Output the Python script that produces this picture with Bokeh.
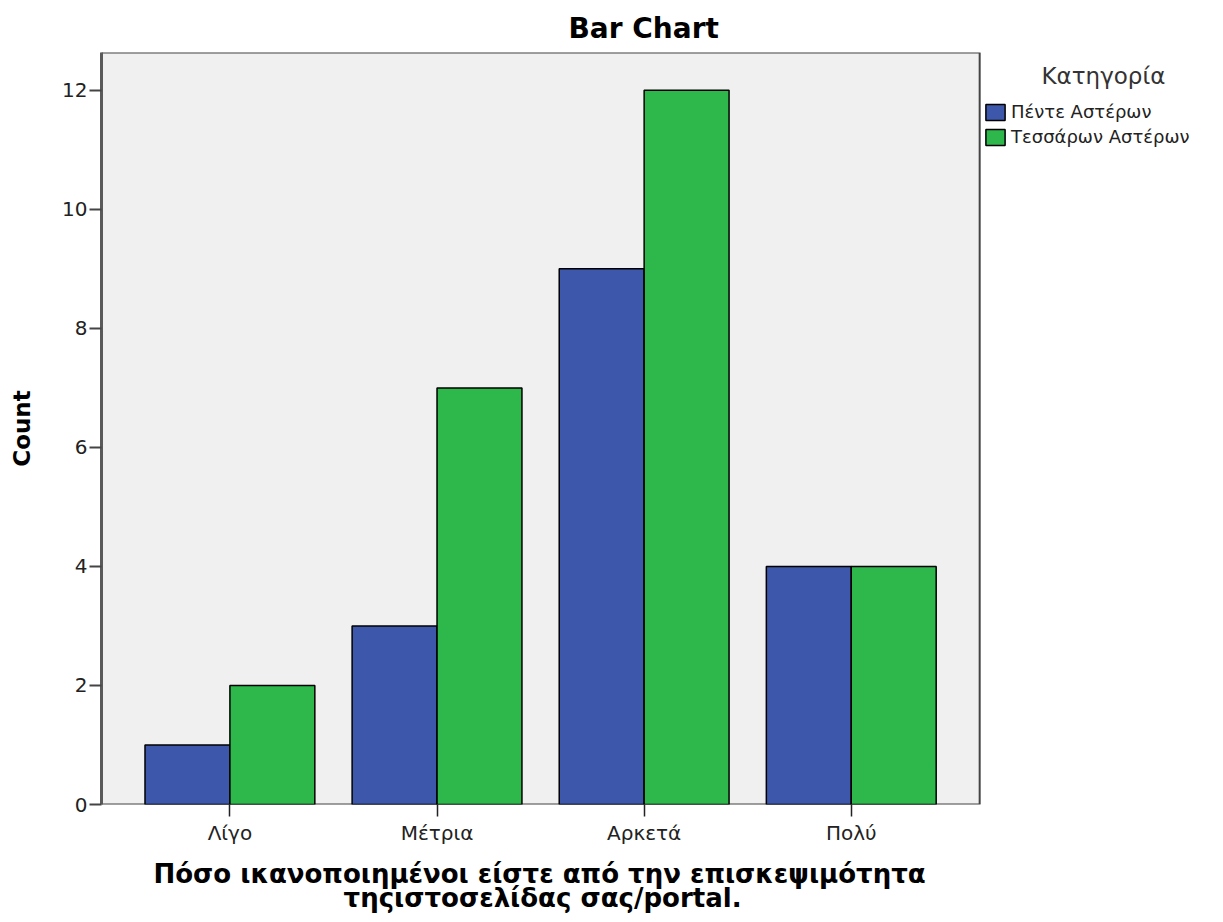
from bokeh.plotting import figure
from bokeh.models import (ColumnDataSource, Range1d, FixedTicker, Legend, LegendItem,
                          BoxAnnotation, Title)
from bokeh.transform import dodge
from bokeh.embed import file_html
from bokeh.resources import INLINE

categories = ["Λίγο", "Μέτρια", "Αρκετά", "Πολύ"]
pente = [1, 3, 9, 4]
tessaron = [2, 7, 12, 4]
series_names = ["Πέντε Αστέρων", "Τεσσάρων Αστέρων"]
y_ticks = [0, 2, 4, 6, 8, 10, 12]
legend_title = "Κατηγορία"
chart_title = "Bar Chart"
x_label_lines = ["Πόσο ικανοποιημένοι είστε από την επισκεψιμότητα",
                 "τηςιστοσελίδας σας/portal."]
y_label = "Count"

BLUE = "#3d57aa"
GREEN = "#2eb84b"
FONT = "DejaVu Sans"
NBSP = "\u00a0"

# plotting box (data units) and the extra room on the right that holds the legend
X0, X1, XR = 0.38, 4.62, 5.72
Y0, Y1 = 0, 12.635

pos = list(range(1, len(categories) + 1))
src = ColumnDataSource(dict(x=pos, pente=pente, tessaron=tessaron))

W, H = 1207, 922
p = figure(width=W, height=H, output_backend="svg", toolbar_location=None,
           x_range=Range1d(X0, XR), y_range=Range1d(Y0, Y1),
           min_border_left=101, min_border_right=0, min_border_top=52,
           min_border_bottom=H - 808)

p.background_fill_color = "white"
p.border_fill_color = "white"
p.outline_line_color = None
p.xgrid.visible = False
p.ygrid.visible = False

p.add_layout(BoxAnnotation(left=X0, right=X1, bottom=Y0, top=Y1, fill_color="#f0f0f0",
                           fill_alpha=1, line_color="#444444", line_alpha=1,
                           line_width=2, level="underlay"))

p.title.text = chart_title
p.title.text_font = FONT
p.title.text_font_size = "28px"
p.title.text_font_style = "bold"
p.title.text_color = "black"
p.title.align = "left"
p.title.offset = 467
p.title.standoff = 16

w = 0.41
r1 = p.vbar(x=dodge("x", -w / 2, range=p.x_range), top="pente", width=w, source=src,
            fill_color=BLUE, line_color="black", line_width=1.5)
r2 = p.vbar(x=dodge("x", w / 2, range=p.x_range), top="tessaron", width=w, source=src,
            fill_color=GREEN, line_color="black", line_width=1.5)

# axes
xa = p.xaxis[0]
xa.ticker = FixedTicker(ticks=pos)
xa.major_label_overrides = {i: c for i, c in zip(pos, categories)}
xa.minor_tick_line_color = None
xa.major_tick_in = 0
xa.major_tick_out = 12
xa.major_tick_line_color = "#222222"
xa.major_tick_line_width = 1.5
xa.axis_line_color = None
xa.major_label_text_font = FONT
xa.major_label_text_font_size = "20px"
xa.major_label_text_color = "#222222"
xa.major_label_standoff = 4

ya = p.yaxis[0]
ya.ticker = FixedTicker(ticks=y_ticks)
ya.minor_tick_line_color = None
ya.major_tick_in = 0
ya.major_tick_out = 12
ya.major_tick_line_color = "#444444"
ya.major_tick_line_width = 2
ya.axis_line_color = "#5a5a5a"
ya.axis_line_width = 3
ya.major_label_text_font = FONT
ya.major_label_text_font_size = "20px"
ya.major_label_text_color = "#222222"
ya.major_label_standoff = 2
ya.axis_label = y_label
ya.axis_label_text_font = FONT
ya.axis_label_text_font_size = "23px"
ya.axis_label_text_font_style = "bold"
ya.axis_label_text_color = "black"
ya.axis_label_standoff = 24

# x-axis title: two lines, each centred under the plotting box
x_title = x_label_lines[0] + "\n" + NBSP * 21 + x_label_lines[1]
p.add_layout(Title(text=x_title, align="left", offset=52, text_font=FONT,
                   text_font_size="26px", text_font_style="bold", text_color="black",
                   text_line_height=0.82, standoff=18), "below")

legend = Legend(items=[LegendItem(label=series_names[0], renderers=[r1]),
                       LegendItem(label=series_names[1], renderers=[r2])],
                location=(882, 657), orientation="vertical", padding=0, margin=0,
                spacing=4, glyph_width=24, glyph_height=20, label_standoff=4,
                label_text_font=FONT, label_text_font_size="18px",
                label_text_color="#222222", label_height=20,
                title=NBSP * 8 + legend_title, title_text_font=FONT,
                title_text_font_size="23px", title_text_font_style="normal",
                title_text_color="#333333", title_standoff=12,
                background_fill_alpha=0, border_line_alpha=0)
p.add_layout(legend)

open("out.html", "w").write(file_html(p, INLINE))
